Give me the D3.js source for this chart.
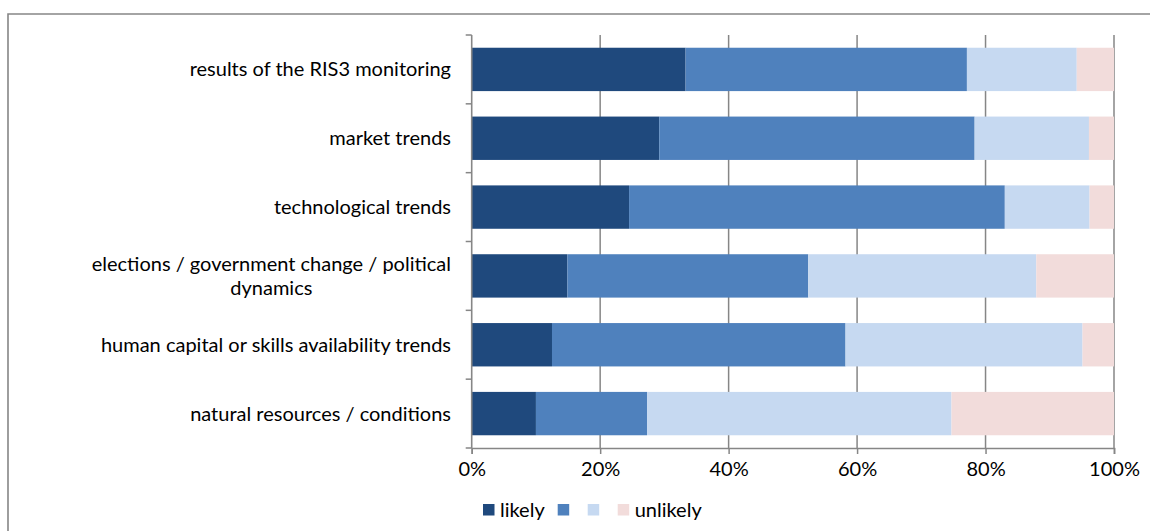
<!DOCTYPE html>
<html>
<head>
<meta charset="utf-8">
<script src="https://cdn.jsdelivr.net/npm/d3@7"></script>
<style>
  html, body { margin: 0; padding: 0; background: #fff; overflow: hidden; }
  svg { display: block; }
  text { font-family: Lato, "Open Sans", sans-serif; fill: #000; }
</style>
</head>
<body>
<svg id="chart" width="1150" height="531"></svg>
<script>
// Drivers of RIS3 revision, share of answers per likelihood level (%)
const categories = [
  "results of the RIS3 monitoring",
  "market trends",
  "technological trends",
  "elections / government change / political dynamics",
  "human capital or skills availability trends",
  "natural resources / conditions"
];
const seriesNames = ["likely", "", "", "unlikely"];
const likely    = [33.3, 29.2, 24.5, 14.9, 12.5, 10.0];
const rather    = [43.8, 49.1, 58.5, 37.5, 45.7, 17.3];
const ratherNot = [17.1, 17.8, 13.2, 35.5, 36.9, 47.4];
const unlikely  = [ 5.8,  3.9,  3.8, 12.1,  4.9, 25.3];
const xTicks = [0, 20, 40, 60, 80, 100];

const colors = ["#1f497d", "#4f81bd", "#c6d9f1", "#f2dcdb"];
const seriesValues = [likely, rather, ratherNot, unlikely];

const FONT = 20;
const GRID = "#868686";

const svg = d3.select("#chart");

// outer chart frame (open to the right and bottom)
svg.append("path")
  .attr("d", "M1150,14 H8 V531")
  .attr("fill", "none").attr("stroke", GRID).attr("stroke-width", 1.6);

const plot = { left: 471.7, right: 1114, top: 35, bottom: 448 };

const x = d3.scaleLinear().domain([0, 100]).range([plot.left, plot.right]);
const gap = 0.37;
const y = d3.scaleBand().domain(categories)
  .range([plot.top, plot.bottom])
  .paddingInner(gap).paddingOuter(gap / 2);

// stacked rows built from the series arrays
const rows = categories.map((c, i) => {
  const o = { category: c };
  seriesValues.forEach((s, k) => { o["s" + k] = s[i]; });
  return o;
});
const stack = d3.stack().keys(seriesValues.map((_, k) => "s" + k));
const layers = stack(rows);

// vertical gridlines
svg.append("g").selectAll("line")
  .data(xTicks.filter(t => t > 0))
  .join("line")
  .attr("x1", d => x(d)).attr("x2", d => x(d))
  .attr("y1", plot.top).attr("y2", plot.bottom)
  .attr("stroke", GRID).attr("stroke-width", 1.5);

// bars
svg.append("g").selectAll("g")
  .data(layers)
  .join("g")
  .attr("fill", (d, k) => colors[k])
  .selectAll("rect")
  .data(d => d)
  .join("rect")
  .attr("x", d => x(d[0]))
  .attr("width", d => x(d[1]) - x(d[0]))
  .attr("y", d => y(d.data.category))
  .attr("height", y.bandwidth());

// x axis
const xAxis = d3.axisBottom(x)
  .tickValues(xTicks)
  .tickFormat(d => d + "%")
  .tickSize(6)
  .tickPadding(8);
const gx = svg.append("g")
  .attr("transform", `translate(0,${plot.bottom})`)
  .call(xAxis);
gx.select(".domain").attr("stroke", GRID).attr("stroke-width", 1.6);
gx.selectAll(".tick line").attr("stroke", GRID).attr("stroke-width", 1.5);
gx.selectAll(".tick text")
  .style("font-family", "Lato, 'Open Sans', sans-serif")
  .style("font-size", FONT + "px")
  .attr("fill", "#000");

// category axis: line and ticks on band boundaries
const step = y.step();
const boundaries = d3.range(categories.length + 1)
  .map(i => plot.top + i * step);
svg.append("line")
  .attr("x1", plot.left).attr("x2", plot.left)
  .attr("y1", plot.top).attr("y2", plot.bottom)
  .attr("stroke", GRID).attr("stroke-width", 1.6);
svg.append("g").selectAll("line")
  .data(boundaries)
  .join("line")
  .attr("x1", plot.left - 6).attr("x2", plot.left)
  .attr("y1", d => d).attr("y2", d => d)
  .attr("stroke", GRID).attr("stroke-width", 1.5);

// category labels, wrapped when wider than the label column
const labelX = 451;
const maxLabelWidth = 400;
const lineHeight = 24;
const labels = svg.append("g")
  .style("font-size", FONT + "px");

categories.forEach(cat => {
  const cy = y(cat) + y.bandwidth() / 2;
  const probe = labels.append("text").text(cat);
  const words = cat.split(" ");
  let lines = [];
  if (probe.node().getComputedTextLength() <= maxLabelWidth) {
    lines = [cat];
  } else {
    let cur = [];
    words.forEach(w => {
      const trial = cur.concat(w).join(" ");
      probe.text(trial);
      if (probe.node().getComputedTextLength() > maxLabelWidth && cur.length) {
        lines.push(cur.join(" "));
        cur = [w];
      } else {
        cur.push(w);
      }
    });
    if (cur.length) lines.push(cur.join(" "));
  }
  probe.remove();

  // block is right-aligned; lines are centred within it
  const widths = lines.map(l => {
    const t = labels.append("text").text(l);
    const w = t.node().getComputedTextLength();
    t.remove();
    return w;
  });
  const blockW = d3.max(widths);
  const centerX = labelX - blockW / 2;
  const y0 = cy - (lines.length - 1) * lineHeight / 2;
  lines.forEach((l, i) => {
    labels.append("text")
      .attr("x", centerX)
      .attr("y", y0 + i * lineHeight)
      .attr("dy", "0.35em")
      .attr("text-anchor", "middle")
      .text(l);
  });
});

// legend
const legend = svg.append("g")
  .attr("transform", "translate(483,504)")
  .style("font-size", FONT + "px");
let lx = 0;
seriesNames.forEach((name, k) => {
  legend.append("rect")
    .attr("x", lx).attr("y", 0)
    .attr("width", 11.5).attr("height", 11.5)
    .attr("fill", colors[k]);
  const t = legend.append("text")
    .attr("x", lx + 17).attr("y", 6)
    .attr("dy", "0.35em")
    .text(name);
  const tw = name ? t.node().getComputedTextLength() : 0;
  lx += 17 + tw + 13;
});
</script>
</body>
</html>
